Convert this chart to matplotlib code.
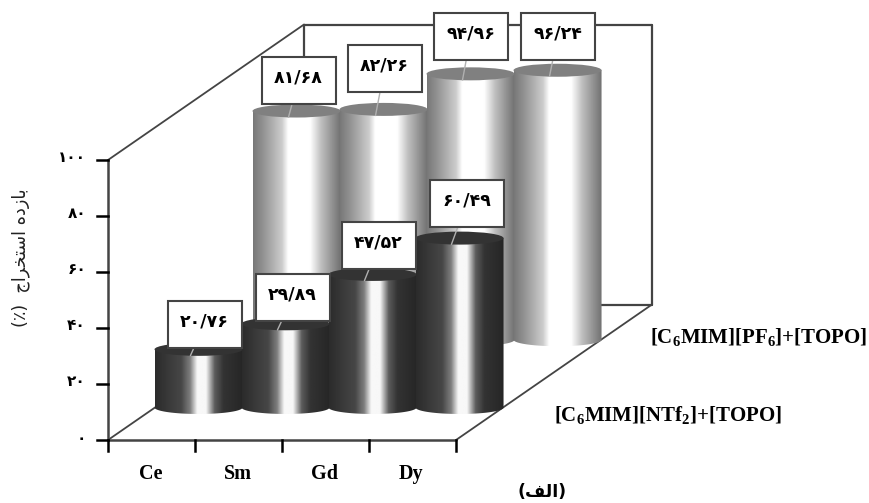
# -*- coding: utf-8 -*-
#3D looking cylinder chart, drawn with a small oblique projection
import numpy as np
import matplotlib
matplotlib.use('Agg')
import matplotlib.pyplot as plt
from matplotlib.patches import Rectangle, Ellipse, PathPatch
from matplotlib.path import Path

plt.rcParams['mathtext.fontset'] = 'custom'
plt.rcParams['mathtext.bf'] = 'Liberation Serif:bold'
plt.rcParams['mathtext.rm'] = 'Liberation Serif:bold'

#Data
elements = ['Ce', 'Sm', 'Gd', 'Dy']
ntf2_values = [20.76, 29.89, 47.52, 60.49]
pf6_values = [81.68, 82.26, 94.96, 96.24]
y_ticks = [0, 20, 40, 60, 80, 100]
ntf2_name = r'[C$\mathbf{_6}$MIM][NTf$\mathbf{_2}$]+[TOPO]'
pf6_name = r'[C$\mathbf{_6}$MIM][PF$\mathbf{_6}$]+[TOPO]'

#Persian text is written in visual order with presentation forms (no shaping in matplotlib)
y_title = '(\u066A)  \uFE9D\uFE8D\uFEAE\uFEA8\uFE98\uFEB3\uFE8D \uFEE9\uFEA9\uFEAF\uFE8E\uFE91'
panel_title = '(\uFED2\uFEDF\uFE8D)'

#Projection: category position, value, depth -> figure pixels
X0, Y0 = 108, 440
CAT_W = 87
VAL_H = 2.8
DEPTH_X, DEPTH_Y = 196, -135.5
n_cat = len(elements)


def project(cat, val, depth):
    return X0 + cat * CAT_W + depth * DEPTH_X, Y0 - val * VAL_H + depth * DEPTH_Y


def persian(text):
    return text.translate(str.maketrans('0123456789', '۰۱۲۳۴۵۶۷۸۹'))


#Colour across the cylinder width
pos = np.linspace(0, 1, 200)
light_grad = np.interp(pos, [0, .12, .33, .40, .65, .78, 1], [.47, .58, .80, 1, 1, .74, .44])
dark_grad = np.interp(pos, [0, .30, .40, .48, .58, .68, .78, 1], [.17, .28, .50, .97, .97, .36, .20, .15])

fig = plt.figure(figsize=(8.7, 5.03), dpi=100)
ax = fig.add_axes([0, 0, 1, 1])
LINE = '#444444'


def wire(a, b, lw=1.6, color=LINE, z=1):
    ax.plot([a[0], b[0]], [a[1], b[1]], color=color, lw=lw, zorder=z, solid_capstyle='round')


#Walls and floor
wire(project(0, 0, 0), project(n_cat, 0, 0), lw=1.8)
wire(project(0, 0, 0), project(0, 0, 1), lw=1.3)
wire(project(0, 0, 1), project(n_cat, 0, 1))
wire(project(n_cat, 0, 0), project(n_cat, 0, 1), lw=1.3)
wire(project(0, 0, 0), project(0, 100, 0), lw=1.8)
wire(project(0, 0, 1), project(0, 100, 1))
wire(project(n_cat, 0, 1), project(n_cat, 100, 1))
wire(project(0, 100, 0), project(0, 100, 1), lw=1.3)
wire(project(0, 100, 1), project(n_cat, 100, 1))

#Y ticks
for t in y_ticks:
    px, py = project(0, t, 0)
    ax.plot([px - 11, px], [py, py], color='black', lw=1.8, zorder=2)
    ax.text(px - 22, py - 2, persian(str(t)), ha='right', va='center', fontsize=11,
            fontweight='bold', family='DejaVu Sans', color='black')

#X ticks
for i in range(n_cat + 1):
    px, py = project(i, 0, 0)
    ax.plot([px, px], [py, py + 11], color='black', lw=1.8, zorder=2)
for i, name in enumerate(elements):
    px, py = project(i + 0.5, 0, 0)
    ax.text(px - 1, 474, name, ha='center', va='center', fontsize=14.5, fontweight='bold',
            family='Liberation Serif', color='black')


def cylinder(cat, val, depth, grad, top_color, z):
    cx, base = project(cat + 0.5, 0, depth)
    _, top = project(cat + 0.5, val, depth)
    half_w, half_h = CAT_W / 2 + 0.5, 6.5
    t = np.linspace(0, np.pi, 60)
    xs = np.r_[cx + half_w * np.cos(t), cx - half_w * np.cos(t)]
    ys = np.r_[base + half_h * np.sin(t), top - 0 * t]
    body = Path(np.c_[xs, ys])
    im = ax.imshow(grad[None, :], extent=[cx - half_w, cx + half_w, base + half_h, top],
                   cmap='gray', vmin=0, vmax=1, aspect='auto', zorder=z)
    im.set_clip_path(PathPatch(body, transform=ax.transData))
    ax.add_patch(Ellipse((cx, top), 2 * half_w, 2 * half_h, fc=top_color, ec='none', zorder=z))
    return cx, top


def value_label(cx, top, val, off, z):
    bx, by = cx + off[0], top + off[1]
    w, h = 74, 47
    ax.plot([cx - 8, bx], [top + 6, by], color='#b0b0b0', lw=1, zorder=z)
    ax.add_patch(Rectangle((bx - w / 2, by - h / 2), w, h, fc='white', ec=LINE, lw=1.5, zorder=z + 0.1))
    label = persian(f'{val:.2f}'.replace('.', '/'))
    ax.text(bx, by - 3, label, ha='center', va='center', fontsize=12.5, fontweight='bold',
            family='DejaVu Sans', color='black', zorder=z + 0.2)


#Back row, then front row, each left to right
pf6_off = [(2, -31), (1, -41), (0, -37), (0, -34)]
ntf2_off = [(6, -25), (7, -26), (6, -29), (7, -35)]
z = 3
for i, v in enumerate(pf6_values):
    cx, top = cylinder(i, v, 0.74, light_grad, '#808080', z + i)
    value_label(cx, top, v, pf6_off[i], 30)
for i, v in enumerate(ntf2_values):
    cx, top = cylinder(i, v, 0.24, dark_grad, '#333333', z + 10 + i)
    value_label(cx, top, v, ntf2_off[i], 40)

#Series names and titles
ax.text(650, 337, pf6_name, ha='left', va='center', fontsize=15, fontweight='bold',
        family='Liberation Serif', color='black')
ax.text(554, 415, ntf2_name, ha='left', va='center', fontsize=15, fontweight='bold',
        family='Liberation Serif', color='black')
ax.text(21, 258, y_title, rotation=90, ha='center', va='center', fontsize=12.7,
        family='DejaVu Sans', color='#222222')
ax.text(542, 492, panel_title, ha='center', va='center', fontsize=12.5, fontweight='bold',
        family='DejaVu Sans', color='black')

ax.set_xlim(0, 870)
ax.set_ylim(503, 0)
ax.axis('off')
fig.savefig('out.png', dpi=100)
